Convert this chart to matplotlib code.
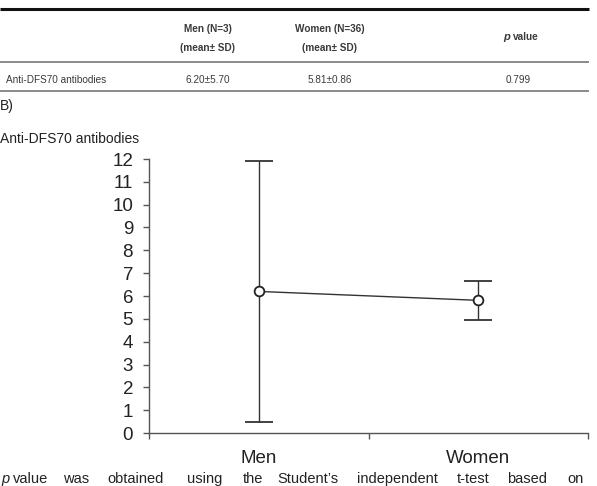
import matplotlib.pyplot as plt

plt.rcParams['font.family'] = ['Liberation Sans', 'DejaVu Sans']

# data
groups = ['Men', 'Women']
n_sizes = [3, 36]
means = [6.20, 5.81]
sds = [5.70, 0.86]
p_value = 0.799
marker_name = 'Anti-DFS70 antibodies'
yticks = list(range(0, 13))

fig = plt.figure(figsize=(5.97, 4.86), dpi=100)

# overlay in pixel coordinates for the table and the text around the plot
ov = fig.add_axes([0, 0, 1, 1])
ov.set_xlim(0, 597)
ov.set_ylim(486, 0)
ov.axis('off')

txt = '#3a3a3a'
ov.plot([0, 589], [9, 9], color='#111111', lw=2.2, solid_capstyle='butt')
ov.plot([0, 589], [62, 62], color='#777777', lw=1.2, solid_capstyle='butt')
ov.plot([0, 589], [91, 91], color='#777777', lw=1.2, solid_capstyle='butt')

col_x = [208, 330]
for x, g, n in zip(col_x, groups, n_sizes):
    ov.text(x, 29, f'{g} (N={n})', ha='center', va='center', fontsize=7.2,
            fontweight='bold', color=txt)
    ov.text(x, 48, '(mean\u00b1 SD)', ha='center', va='center', fontsize=7.2,
            fontweight='bold', color=txt)
ov.text(510, 37, 'p', ha='right', va='center', fontsize=8, style='italic',
        fontweight='bold', color=txt)
ov.text(513, 37, 'value', ha='left', va='center', fontsize=7.2,
        fontweight='bold', color=txt)

ov.text(6, 80, marker_name, ha='left', va='center', fontsize=7.2, color=txt)
for x, m, s in zip(col_x, means, sds):
    ov.text(x, 80, f'{m:.2f}\u00b1{s:.2f}', ha='center', va='center',
            fontsize=7.2, color=txt)
ov.text(518, 80, f'{p_value:.3f}', ha='center', va='center', fontsize=7.2, color=txt)

ov.text(0, 106, 'B)', ha='left', va='center', fontsize=10, color='#222222')
ov.text(0, 139, marker_name, ha='left', va='center', fontsize=10, color='#222222')

# footnote along the bottom edge
words = ['value', 'was', 'obtained', 'using', 'the', 'Student\u2019s',
         'independent', 't-test', 'based', 'on']
word_x = [13, 63, 107, 187, 243, 277, 357, 457, 507, 567]
ov.text(1, 483, 'p', ha='left', va='baseline', fontsize=10.5, style='italic',
        color='#222222')
for w, x in zip(words, word_x):
    ov.text(x, 483, w, ha='left', va='baseline', fontsize=10.5, color='#222222')

# main plot
ax = fig.add_axes([149 / 597, 1 - 433 / 486, (588 - 149) / 597, (433 - 159) / 486])
xpos = [0.5, 1.5]
line_c = '#333333'
ax.errorbar(xpos, means, yerr=sds, color=line_c, lw=1.0, elinewidth=1.0,
            capsize=10, capthick=1.0, marker='o', markersize=7,
            markerfacecolor='white', markeredgecolor='#222222', markeredgewidth=1.3)

ax.set_xlim(0, 2)
ax.set_ylim(0, 12)
ax.set_yticks(yticks)
ax.set_xticks([0, 1, 2])
ax.set_xticklabels([])
ax.set_xticks(xpos, minor=True)
ax.set_xticklabels(groups, minor=True)
ax.tick_params(axis='x', which='minor', length=0, pad=12, labelsize=13.5,
               labelcolor='#222222')
ax.tick_params(axis='x', which='major', length=4, width=1, color='#555555')
ax.tick_params(axis='y', length=4.5, width=1, color='#555555', pad=7,
               labelsize=13.5, labelcolor='#222222')
for side in ['top', 'right']:
    ax.spines[side].set_visible(False)
for side in ['left', 'bottom']:
    ax.spines[side].set_color('#555555')
    ax.spines[side].set_linewidth(1.0)
ax.patch.set_alpha(0)

fig.savefig('out.png', dpi=100)
